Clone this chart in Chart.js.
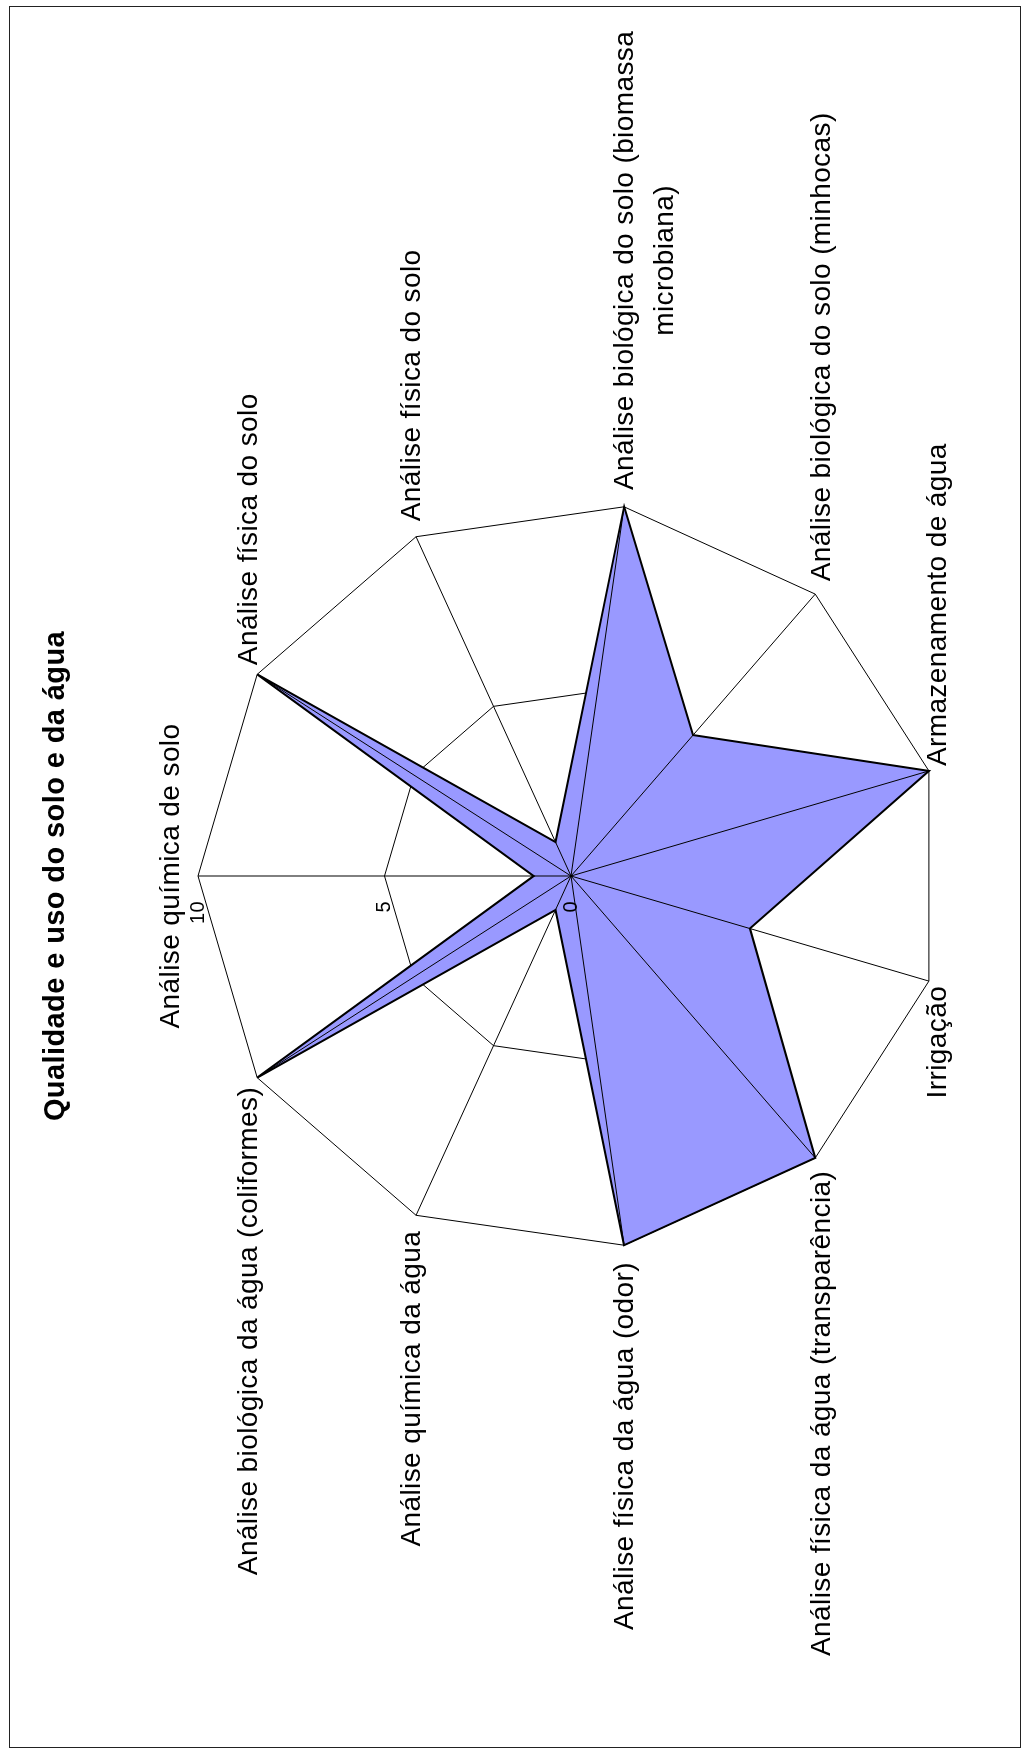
<!DOCTYPE html>
<html>
<head>
<meta charset="utf-8">
<title>Qualidade e uso do solo e da água</title>
<script src="https://cdn.jsdelivr.net/npm/chart.js@4.4.0/dist/chart.umd.min.js"></script>
<style>
  html, body { margin: 0; padding: 0; background: #fff; }
  body { width: 1030px; height: 1753px; overflow: hidden; position: relative; }
  /* the original page is printed sideways, so the whole chart is turned 90deg */
  #page {
    position: absolute; left: 0; top: 0;
    width: 1753px; height: 1030px;
    transform-origin: 0 0;
    transform: translate(0, 1753px) rotate(-90deg);
  }
  #frame { position: absolute; left: 5px; top: 9px; width: 1740px; height: 1010px; border: 1px solid #222; }
  #radar-chart { position: absolute; left: 0; top: 0; }
</style>
</head>
<body>
<div id="page">
  <div id="frame"></div>
  <canvas id="radar-chart" width="1753" height="1030"></canvas>
</div>
<script>
var chart_title = "Qualidade e uso do solo e da água";
var categories = [
  "Análise química de solo",
  "Análise física do solo",
  "Análise física do solo",
  ["Análise biológica do solo (biomassa", "microbiana)"],
  "Análise biológica do solo (minhocas)",
  "Armazenamento de água",
  "Irrigação",
  "Análise física da água (transparência)",
  "Análise física da água (odor)",
  "Análise química da água",
  "Análise biológica da água (coliformes)",
];
var scores = [1, 10, 1, 10, 5, 10, 5, 10, 10, 1, 10];
var tick_values = [0, 5, 10];
var tick_labels = ["0", "5", "10"];

var FONT = "'Liberation Sans', Arial, sans-serif";

// Excel-style labels: spokes over the fill, ticks left of the first axis,
// category names centred on the end of each axis
var overlay = {
  id: "overlay",
  beforeDraw: function (chart) {
    chart.ctx.letterSpacing = "0.4px";
  },
  afterDatasetsDraw: function (chart) {
    var scale = chart.scales.r;
    var ctx = chart.ctx;
    var R = scale.drawingArea;
    ctx.save();
    ctx.strokeStyle = "#000";
    ctx.lineWidth = 1;
    ctx.beginPath();
    for (var i = 0; i < categories.length; i++) {
      var p = scale.getPointPositionForValue(i, scale.max);
      ctx.moveTo(scale.xCenter, scale.yCenter);
      ctx.lineTo(p.x, p.y);
    }
    ctx.stroke();

    ctx.fillStyle = "#000";
    ctx.font = "20px " + FONT;
    ctx.textAlign = "right";
    ctx.textBaseline = "middle";
    for (var j = 0; j < tick_values.length; j++) {
      var t = scale.getPointPositionForValue(0, tick_values[j]);
      ctx.fillText(tick_labels[j], t.x - 25, t.y);
    }

    ctx.font = "28px " + FONT;
    for (var k = 0; k < categories.length; k++) {
      var a = scale.getIndexAngle(k);
      var s = Math.sin(a), c = Math.cos(a);
      var x = scale.xCenter + s * (R + 17);
      var y = scale.yCenter - c * (R + 10);
      var lines = Array.isArray(categories[k]) ? categories[k] : [categories[k]];
      var align = "center";
      if (s > 0.001) align = "left";
      if (s < -0.001) align = "right";
      if (align == "center") y -= c > 0 ? 16.8 : -16.8;
      ctx.textAlign = align;
      ctx.fillText(lines[0], x, y);
      var w0 = ctx.measureText(lines[0]).width;
      var mid = align == "left" ? x + w0 / 2 : align == "right" ? x - w0 / 2 : x;
      ctx.textAlign = "center";
      for (var n = 1; n < lines.length; n++) {
        ctx.fillText(lines[n], mid, y + n * 40);
      }
    }
    ctx.restore();
  },
};

var ctx = document.getElementById("radar-chart").getContext("2d");
var radar_chart = new Chart(ctx, {
  type: "radar",
  data: {
    labels: categories,
    datasets: [
      {
        label: "Qualidade",
        data: scores,
        backgroundColor: "#9999ff",
        borderColor: "#000",
        borderWidth: 2,
        pointRadius: 0,
        pointHoverRadius: 0,
        fill: true,
      },
    ],
  },
  options: {
    responsive: false,
    animation: false,
    devicePixelRatio: 1,
    layout: { padding: { left: 6, right: 5, top: 0, bottom: 85 } },
    plugins: {
      legend: { display: false },
      tooltip: { enabled: false },
      title: {
        display: true,
        text: chart_title,
        color: "#000",
        font: { family: FONT, size: 29, weight: "bold", lineHeight: 1.2 },
        padding: { top: 39, bottom: 124 },
      },
    },
    scales: {
      r: {
        min: 0,
        max: 10,
        ticks: { stepSize: 5, display: false },
        grid: { color: "#000", lineWidth: 1 },
        angleLines: { display: false },
        pointLabels: { display: false },
      },
    },
  },
  plugins: [overlay],
});
</script>
</body>
</html>
